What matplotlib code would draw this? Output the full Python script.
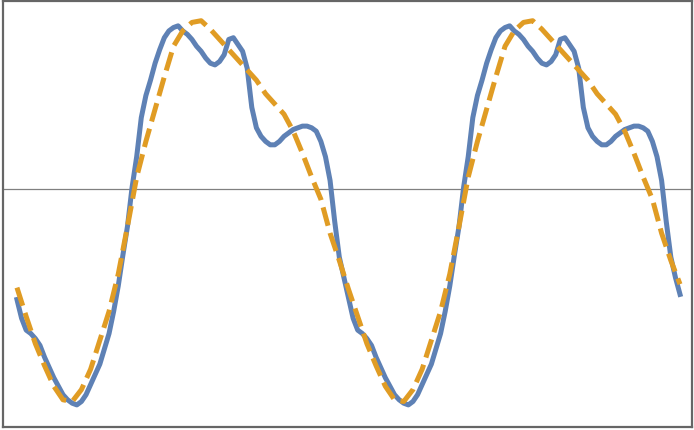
import numpy as np
import matplotlib
matplotlib.use("Agg")
import matplotlib.pyplot as plt

# sample angles in degrees (two full cycles)
angle_fine = np.arange(0, 725, 5)
angle_coarse = np.arange(0, 730, 10)

# measured signal (solid blue)
signal = [
    -0.65, -0.76, -0.83, -0.85, -0.88, -0.92, -0.99, -1.05, -1.11, -1.16,
    -1.21, -1.24, -1.26, -1.27, -1.25, -1.21, -1.15, -1.09, -1.03, -0.94,
    -0.85, -0.72, -0.57, -0.39, -0.22, 0.01, 0.19, 0.42, 0.55, 0.64,
    0.74, 0.82, 0.89, 0.93, 0.95, 0.96, 0.93, 0.91, 0.88, 0.84,
    0.81, 0.77, 0.74, 0.73, 0.75, 0.79, 0.88, 0.89, 0.85, 0.81,
    0.71, 0.48, 0.36, 0.31, 0.28, 0.26, 0.26, 0.28, 0.31, 0.33,
    0.35, 0.36, 0.37, 0.37, 0.36, 0.34, 0.28, 0.19, 0.05, -0.19,
    -0.40, -0.52,
    -0.64, -0.76, -0.83, -0.85, -0.88, -0.92, -0.99, -1.05, -1.11, -1.16,
    -1.21, -1.24, -1.26, -1.27, -1.25, -1.21, -1.15, -1.09, -1.03, -0.94,
    -0.85, -0.72, -0.57, -0.39, -0.22, 0.01, 0.19, 0.42, 0.55, 0.64,
    0.74, 0.82, 0.89, 0.93, 0.95, 0.96, 0.93, 0.91, 0.88, 0.84,
    0.81, 0.77, 0.74, 0.73, 0.75, 0.79, 0.88, 0.89, 0.85, 0.81,
    0.71, 0.48, 0.36, 0.31, 0.28, 0.26, 0.26, 0.28, 0.31, 0.33,
    0.35, 0.36, 0.37, 0.37, 0.36, 0.34, 0.28, 0.19, 0.05, -0.19,
    -0.40, -0.52,
    -0.62,
]

# smooth fit (dashed orange)
fit = [
    -0.58, -0.75, -0.91, -1.04, -1.16, -1.24, -1.25, -1.18, -1.06, -0.89,
    -0.72, -0.50, -0.22, 0.07, 0.28, 0.47, 0.66, 0.84, 0.93, 0.98,
    0.99, 0.94, 0.88, 0.82, 0.76, 0.70, 0.64, 0.56, 0.50, 0.44,
    0.34, 0.21, 0.07, -0.06, -0.26, -0.42,
    -0.59, -0.75, -0.91, -1.04, -1.16, -1.24, -1.25, -1.18, -1.06, -0.89,
    -0.72, -0.50, -0.22, 0.07, 0.28, 0.47, 0.66, 0.84, 0.93, 0.98,
    0.99, 0.94, 0.88, 0.82, 0.76, 0.70, 0.64, 0.56, 0.50, 0.44,
    0.34, 0.21, 0.07, -0.06, -0.26, -0.42,
    -0.56,
]

fig = plt.figure(figsize=(6.94, 4.31), dpi=100)
ax = fig.add_axes([2.5 / 694, 3 / 431, 689.5 / 694, 426 / 431])

ax.axhline(0, color="#808080", lw=0.9, zorder=1)
ax.plot(angle_fine, signal, color="#5E81B5", lw=3.6,
        solid_joinstyle="round", zorder=2)
ax.plot(angle_coarse, fit, color="#E09C24", lw=3.6,
        linestyle=(0, (3.8, 1.5)), zorder=3)

ax.set_xlim(-15.7, 733.0)
ax.set_ylim(-1.4, 1.106)
ax.set_xticks([])
ax.set_yticks([])
for s in ax.spines.values():
    s.set_color("#666666")
    s.set_linewidth(1.6)

fig.savefig("out.png", dpi=100)
plt.close(fig)
